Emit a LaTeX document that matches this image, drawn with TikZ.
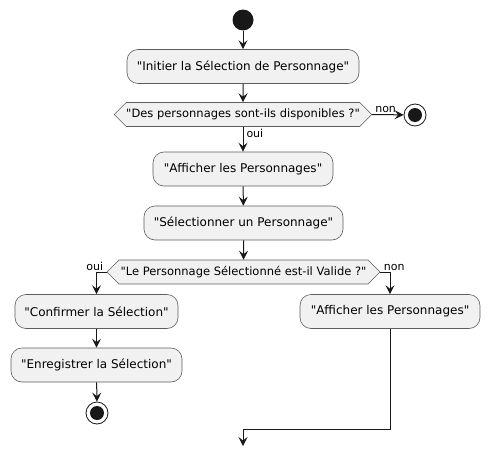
\documentclass[tikz,border=0pt]{standalone}
\usepackage{fontspec}
\setmainfont{DejaVu Sans}[Ligatures=TeXOff]
\usetikzlibrary{arrows.meta,shapes.symbols}
\definecolor{boxfill}{HTML}{F1F1F1}
\definecolor{ink}{HTML}{181818}
\tikzset{
  action/.style={draw=ink!70, fill=boxfill, rounded corners=11pt, minimum height=34pt,
    inner sep=0pt, line width=0.6pt, font=\fontsize{12}{14}\selectfont},
  choice/.style={draw=ink!70, fill=boxfill, signal, signal to=west and east,
    signal pointer angle=90, minimum height=24pt, inner sep=0pt, line width=0.6pt,
    font=\fontsize{11.5}{13}\selectfont},
  flow/.style={-{Stealth[length=9pt,width=9pt,inset=3.5pt]}, draw=ink, line width=1pt},
  guard/.style={font=\fontsize{11}{13}\selectfont, inner sep=1pt},
  startdot/.style={circle, fill=ink, minimum size=21pt, inner sep=0pt},
  stopdot/.style={circle, draw=ink, line width=0.8pt, fill=white, minimum size=22pt, inner sep=0pt,
    path picture={\fill[ink] (path picture bounding box.center) circle (7pt);}},
}
\begin{document}
\begin{tikzpicture}[x=1pt,y=-1pt]
  \useasboundingbox (0,0) rectangle (490,455);
  \node[startdot] (start) at (243,20) {};
  \node[action, minimum width=232pt] (init) at (243,66.5) {"Initier la Sélection de Personnage"};
  \node[choice, minimum width=256pt] (avail) at (243,114.5) {"Des personnages sont-ils disponibles ?"};
  \node[stopdot] (stop1) at (415,115) {};
  \node[action, minimum width=180pt] (show) at (243,169) {"Afficher les Personnages"};
  \node[action, minimum width=199pt] (select) at (243.5,223) {"Sélectionner un Personnage"};
  \node[choice, minimum width=273pt] (valid) at (243.5,272) {"Le Personnage Sélectionné est-il Valide ?"};
  \node[action, minimum width=163pt] (confirm) at (96.5,311.5) {"Confirmer la Sélection"};
  \node[action, minimum width=180pt] (showagain) at (390,311.5) {"Afficher les Personnages"};
  \node[action, minimum width=171pt] (save) at (96.5,365) {"Enregistrer la Sélection"};
  \node[stopdot] (stop2) at (97,413) {};
  \coordinate (merge) at (243,429);
  \coordinate (tail) at (243,446);
  \begin{scope}[flow]
    \draw (start) -- (init);
    \draw (init) -- (avail);
    \draw (avail.east) -- node[guard, pos=0.05, anchor=south west] {non} (stop1);
    \draw (avail.south) -- node[guard, pos=0, anchor=north west, xshift=2pt, yshift=-1pt] {oui} (show);
    \draw (show) -- (select);
    \draw (select) -- (valid);
    \draw (valid.west) -| node[guard, pos=0.1, anchor=south east] {oui} (confirm.north);
    \draw (valid.east) -| node[guard, pos=0.1, anchor=south west] {non} (showagain.north);
    \draw (confirm) -- (save);
    \draw (save) -- (stop2);
    \draw (showagain.south) |- (merge) -- (tail);
  \end{scope}
\end{tikzpicture}
\end{document}
